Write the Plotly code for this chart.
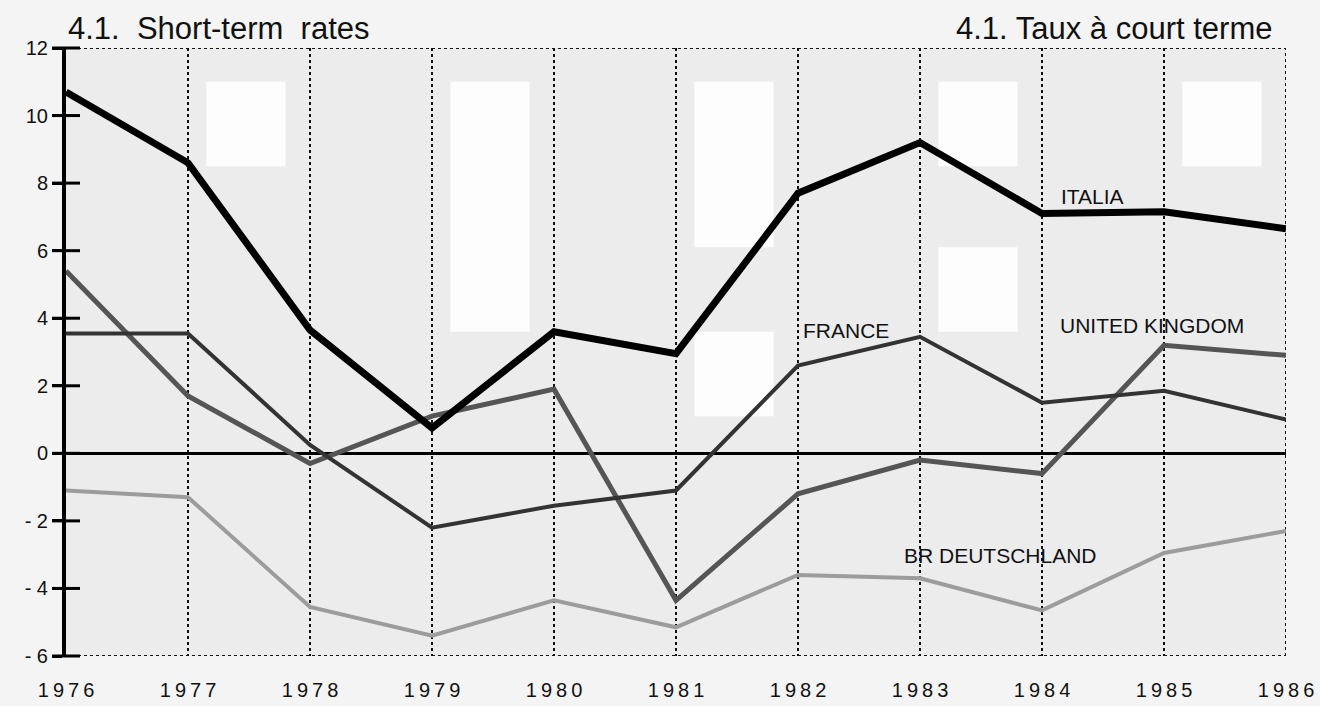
import plotly.graph_objects as go

years = [1976, 1977, 1978, 1979, 1980, 1981, 1982, 1983, 1984, 1985, 1986]
italia = [10.7, 8.6, 3.65, 0.75, 3.6, 2.95, 7.7, 9.2, 7.1, 7.15, 6.65]
france = [3.55, 3.55, 0.25, -2.2, -1.55, -1.1, 2.6, 3.45, 1.5, 1.85, 1.0]
united_kingdom = [5.4, 1.7, -0.3, 1.1, 1.9, -4.35, -1.2, -0.2, -0.6, 3.2, 2.9]
deutschland = [-1.1, -1.3, -4.55, -5.4, -4.35, -5.15, -3.6, -3.7, -4.65, -2.95, -2.3]

y_ticks = [-6, -4, -2, 0, 2, 4, 6, 8, 10, 12]
y_tick_text = ["- 6", "- 4", "- 2", "0", "2", "4", "6", "8", "10", "12"]
title_left = "4.1.  Short-term  rates"
title_right = "4.1. Taux à court terme"

fig = go.Figure()

# decorative white patches seen in the scanned background
patches = [
    (1977.15, 1977.8, 8.5, 11.0), (1979.15, 1979.8, 3.6, 11.0),
    (1981.15, 1981.8, 6.1, 11.0), (1983.15, 1983.8, 8.5, 11.0),
    (1983.15, 1983.8, 3.6, 6.1), (1985.15, 1985.8, 8.5, 11.0),
    (1981.15, 1981.8, 1.1, 3.6),
]
for x0, x1, y0, y1 in patches:
    fig.add_shape(type="rect", xref="x", yref="y", x0=x0, x1=x1, y0=y0, y1=y1,
                  fillcolor="#fdfdfd", line_width=0, layer="below")

fig.add_trace(go.Scatter(x=years, y=deutschland, mode="lines", name="BR DEUTSCHLAND",
                         line=dict(color="#9c9c9c", width=4)))
fig.add_trace(go.Scatter(x=years, y=united_kingdom, mode="lines", name="UNITED KINGDOM",
                         line=dict(color="#555555", width=5)))
fig.add_trace(go.Scatter(x=years, y=france, mode="lines", name="FRANCE",
                         line=dict(color="#333333", width=4)))
fig.add_trace(go.Scatter(x=years, y=italia, mode="lines", name="ITALIA",
                         line=dict(color="#000000", width=7)))

# tick marks crossing the left axis
fig.add_trace(go.Scatter(x=[years[0]] * len(y_ticks), y=y_ticks, mode="markers",
                         marker=dict(symbol="line-ew", size=20, color="#000000",
                                     line=dict(color="#000000", width=3)),
                         cliponaxis=False, hoverinfo="skip"))

# dotted frame (top, bottom, right)
for (x0, x1, y0, y1) in [(1976, 1986, 12, 12), (1976, 1986, -6, -6), (1986, 1986, -6, 12)]:
    fig.add_shape(type="line", xref="x", yref="y", x0=x0, x1=x1, y0=y0, y1=y1,
                  line=dict(color="#111111", width=2, dash="dot"), layer="below")

label_font = dict(family="Liberation Sans Narrow, Arial Narrow, Liberation Sans, Arial",
                  size=21, color="#111111")
labels = [
    ("ITALIA", 1984.41, 7.6),
    ("FRANCE", 1982.39, 3.64),
    ("UNITED KINGDOM", 1984.9, 3.79),
    ("BR DEUTSCHLAND", 1983.66, -3.03),
]
for text, x, y in labels:
    fig.add_annotation(x=x, y=y, xref="x", yref="y", text=text, showarrow=False,
                       font=label_font)

title_font = dict(family="Liberation Sans, Arial", size=31, color="#111111")
fig.add_annotation(x=0, y=1.0, xref="paper", yref="paper", xanchor="left", yanchor="bottom",
                   text=title_left, showarrow=False, font=title_font, yshift=0)
fig.add_annotation(x=0.99, y=1.0, xref="paper", yref="paper", xanchor="right", yanchor="bottom",
                   text=title_right, showarrow=False, font=title_font, yshift=0)

fig.update_layout(
    width=1320, height=706,
    margin=dict(l=66, r=34, t=48, b=50),
    paper_bgcolor="#f4f4f4",
    plot_bgcolor="#ececec",
    showlegend=False,
    font=dict(family="Liberation Sans, Arial", size=19, color="#111111"),
)
fig.update_xaxes(
    range=[1976, 1986], tickmode="array", tickvals=years,
    ticktext=["\u2009".join(str(y)) for y in years],
    showgrid=True, gridcolor="#111111", gridwidth=2, griddash="dot",
    zeroline=False, showline=False, automargin=False,
    ticks="outside", ticklen=16, tickcolor="rgba(0,0,0,0)", tickfont=dict(size=20),
)
fig.update_yaxes(
    range=[-6, 12], tickmode="array", tickvals=y_ticks, ticktext=y_tick_text,
    showgrid=False, zeroline=True, zerolinecolor="#000000", zerolinewidth=3,
    showline=True, linecolor="#000000", linewidth=4, automargin=False,
    ticks="outside", ticklen=10, tickwidth=3, tickcolor="#000000",
    tickfont=dict(size=20),
)

fig.write_html("out.html", config={"displayModeBar": False},
               post_script="document.body.style.margin='0px';")
